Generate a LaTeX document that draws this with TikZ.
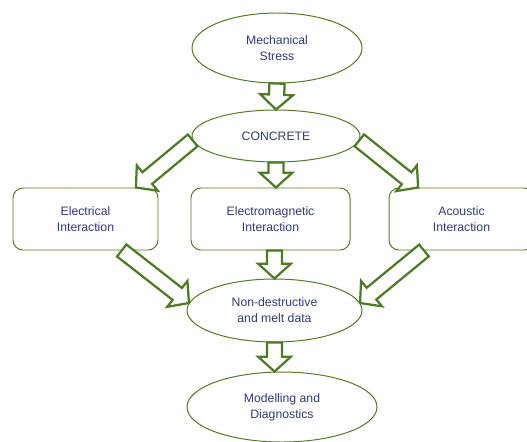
\documentclass[tikz,border=0pt]{standalone}
\usepackage{fontspec}
\setmainfont{Liberation Sans}
\usepackage{tikz}
\usetikzlibrary{calc,shapes.geometric}
\definecolor{leafgreen}{HTML}{4F7A28}
\definecolor{navyink}{HTML}{2E3B78}
\definecolor{paper}{HTML}{FFFFFF}
\tikzset{
  ovalnode/.style={ellipse,draw=leafgreen,fill=paper,line width=0.7pt,align=center,text=navyink,font=\fontsize{8.7}{11.4}\selectfont},
  roundbox/.style={draw=leafgreen,fill=paper,line width=0.7pt,rounded corners=0.25cm,align=center,text=navyink,
    minimum height=1.55cm,font=\fontsize{8.7}{11.4}\selectfont},
  hollowarr/.style={draw=leafgreen,fill=paper,line width=1.6pt,line join=miter}
}
% fat outlined arrow from #1 to #2
\newcommand{\hollowarrow}[2]{%
  \coordinate (ha-h) at ($(#2)!0.37cm!(#1)$);
  \draw[hollowarr] ($(#1)!0.19cm!90:(#2)$) -- ($(ha-h)!0.19cm!90:(#2)$) -- ($(ha-h)!0.41cm!90:(#2)$)
    -- (#2) -- ($(ha-h)!0.41cm!-90:(#2)$) -- ($(ha-h)!0.19cm!-90:(#2)$) -- ($(#1)!0.19cm!-90:(#2)$) -- cycle;}
\begin{document}
\begin{tikzpicture}[x=1cm,y=1cm]
  \useasboundingbox (0,0) rectangle (13.175,-11.025);
  \clip (0,0) rectangle (13.175,-11.025);

  \node[ovalnode,minimum width=4.25cm,minimum height=1.75cm] (mech) at (6.925,-1.2) {Mechanical\\Stress};
  \node[ovalnode,minimum width=4.2cm,minimum height=1.3cm] (conc) at (6.9,-3.4) {CONCRETE};

  \node[roundbox,minimum width=3.625cm] (elec) at (2.1375,-5.475) {Electrical\\Interaction};
  \node[roundbox,minimum width=3.975cm] (emag) at (6.7625,-5.475) {Electromagnetic\\Interaction};
  \node[roundbox,minimum width=3.625cm] (acou) at (11.5375,-5.475) {Acoustic\\Interaction};

  \node[ovalnode,minimum width=4.375cm,minimum height=1.575cm] (nond) at (6.8625,-7.7625) {Non-destructive\\and melt data};
  \node[ovalnode,minimum width=4.75cm,minimum height=1.75cm] (model) at (7.05,-10.175) {Modelling and\\Diagnostics};

  % connectors
  \coordinate (concdown) at (conc.south |- emag.north);
  \coordinate (emagdown) at (nond.north |- emag.south);
  \coordinate (nonddown) at (nond.south |- model.north);
  \hollowarrow{mech.south}{conc.north}
  \hollowarrow{conc.south}{concdown}
  \hollowarrow{conc.183}{elec.32}
  \hollowarrow{conc.-3}{acou.144}
  \hollowarrow{emagdown}{nond.north}
  \hollowarrow{elec.-41}{nond.175}
  \hollowarrow{acou.220}{nond.5}
  \hollowarrow{nond.south}{nonddown}
\end{tikzpicture}
\end{document}
